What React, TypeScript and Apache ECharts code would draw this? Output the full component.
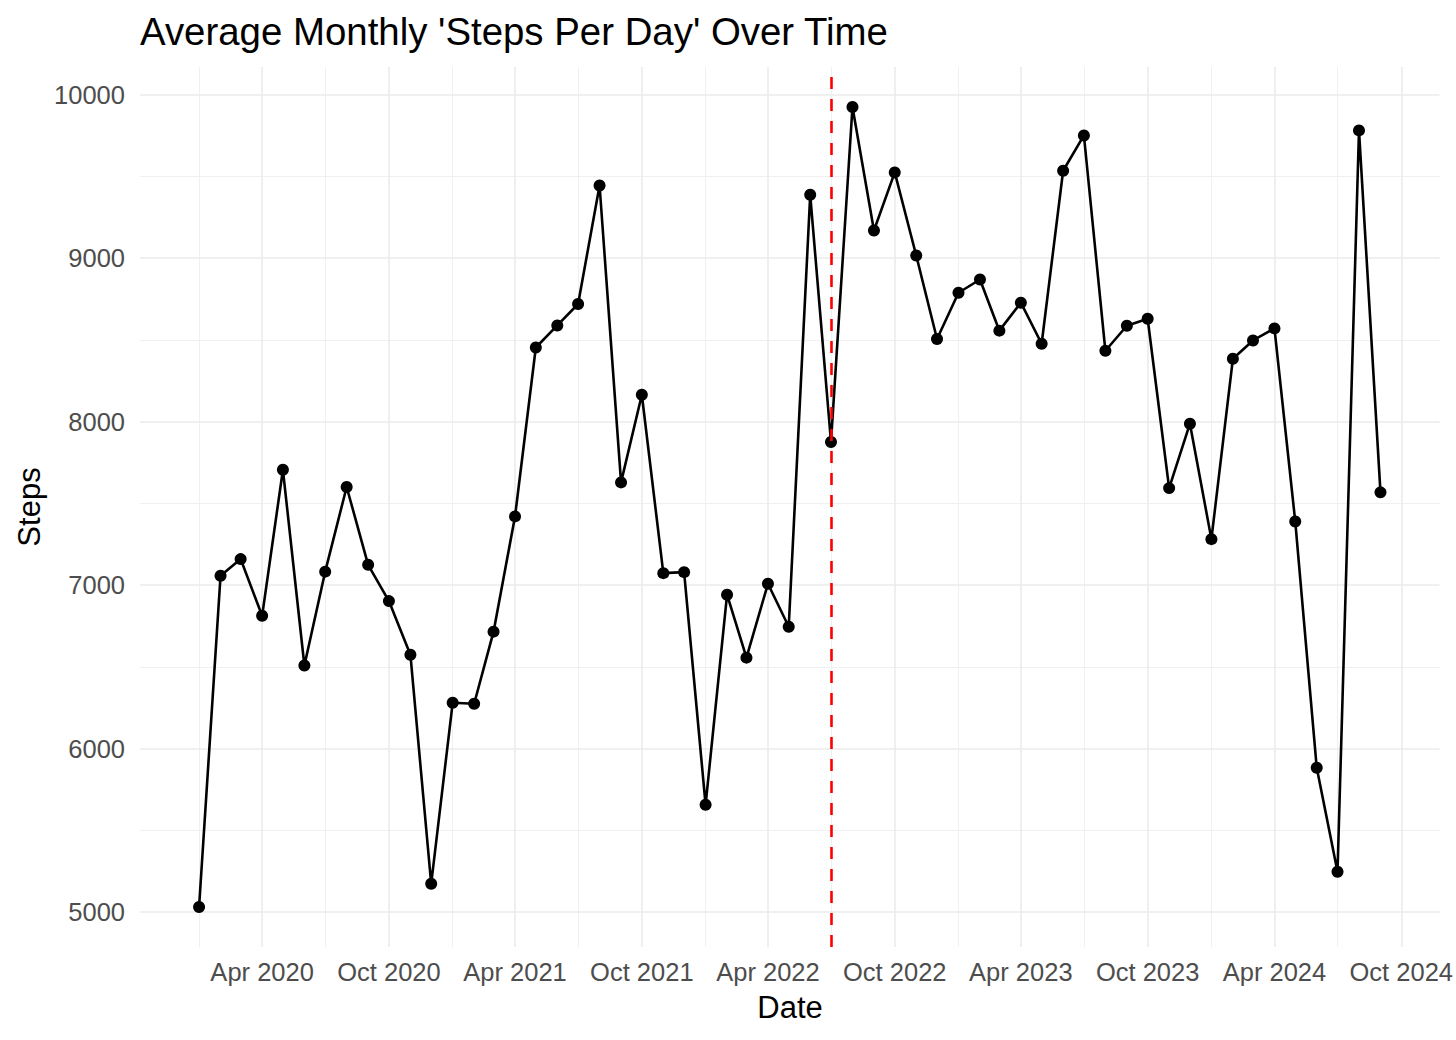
import React, { useEffect, useRef } from "react";
import * as echarts from "echarts";

const chartTitle = "Average Monthly 'Steps Per Day' Over Time";
const xTitle = "Date";
const yTitle = "Steps";

const months = [
  "2020-01", "2020-02", "2020-03", "2020-04", "2020-05", "2020-06", "2020-07", "2020-08", "2020-09", "2020-10", "2020-11", "2020-12",
  "2021-01", "2021-02", "2021-03", "2021-04", "2021-05", "2021-06", "2021-07", "2021-08", "2021-09", "2021-10", "2021-11", "2021-12",
  "2022-01", "2022-02", "2022-03", "2022-04", "2022-05", "2022-06", "2022-07", "2022-08", "2022-09", "2022-10", "2022-11", "2022-12",
  "2023-01", "2023-02", "2023-03", "2023-04", "2023-05", "2023-06", "2023-07", "2023-08", "2023-09", "2023-10", "2023-11", "2023-12",
  "2024-01", "2024-02", "2024-03", "2024-04", "2024-05", "2024-06", "2024-07", "2024-08", "2024-09",
];

const steps = [
  5032, 7058, 7160, 6813, 7706, 6509, 7083, 7601, 7125, 6903, 6575, 5174,
  6281, 6275, 6716, 7421, 8454, 8589, 8720, 9445, 7629, 8165, 7074, 7080,
  5657, 6942, 6557, 7009, 6746, 9388, 7876, 9925, 9170, 9525, 9017, 8506,
  8789, 8870, 8557, 8728, 8477, 9535, 9751, 8434, 8587, 8630, 7594, 7988,
  7282, 8385, 8497, 8571, 7390, 5884, 5248, 9782, 7568,
];

const xMajorTicks = ["2020-04", "2020-10", "2021-04", "2021-10", "2022-04", "2022-10", "2023-04", "2023-10", "2024-04", "2024-10"];
const xMinorTicks = ["2020-01", "2020-07", "2021-01", "2021-07", "2022-01", "2022-07", "2023-01", "2023-07", "2024-01", "2024-07"];
const yMajorTicks = [5000, 6000, 7000, 8000, 9000, 10000];
const yMinorTicks = [5500, 6500, 7500, 8500, 9500];
const markerMonth = "2022-07";
const monthNames = ["Jan", "Feb", "Mar", "Apr", "May", "Jun", "Jul", "Aug", "Sep", "Oct", "Nov", "Dec"];

const ts = (m: string) => {
  const [y, mo] = m.split("-").map(Number);
  return Date.UTC(y, mo - 1, 1);
};

const FONT = "'Liberation Sans', Arial, sans-serif";

export default function App() {
  const ref = useRef<HTMLDivElement>(null);

  useEffect(() => {
    document.body.style.margin = "0";
    if (!ref.current) return;
    const chart = echarts.init(ref.current, null, { renderer: "svg" });

    const xs = months.map(ts);
    const xSpan = xs[xs.length - 1] - xs[0];
    const xMin = xs[0] - 0.05 * xSpan;
    const xMax = xs[xs.length - 1] + 0.05 * xSpan;
    const dMin = Math.min(...steps);
    const dMax = Math.max(...steps);
    const ySpan = dMax - dMin;
    const yMin = dMin - 0.05 * ySpan;
    const yMax = dMax + 0.05 * ySpan;

    const majorStyle = { color: "#ebebeb", width: 1.6, type: "solid" as const };
    const minorStyle = { color: "#f0f0f0", width: 1, type: "solid" as const };

    const gridLines = [
      ...xMinorTicks.map((m) => ({ xAxis: ts(m), lineStyle: minorStyle })),
      ...yMinorTicks.map((v) => ({ yAxis: v, lineStyle: minorStyle })),
      ...xMajorTicks.map((m) => ({ xAxis: ts(m), lineStyle: majorStyle })),
      ...yMajorTicks.map((v) => ({ yAxis: v, lineStyle: majorStyle })),
    ];

    chart.setOption({
      animation: false,
      backgroundColor: "#ffffff",
      grid: { left: 140, right: 16, top: 67, bottom: 93, containLabel: false },
      xAxis: {
        type: "value",
        min: xMin,
        max: xMax,
        axisLine: { show: false },
        axisTick: { show: false },
        splitLine: { show: false },
        axisLabel: {
          customValues: xMajorTicks.map(ts),
          formatter: (v: number) => {
            const d = new Date(v);
            return monthNames[d.getUTCMonth()] + " " + d.getUTCFullYear();
          },
          color: "#4d4d4d",
          fontSize: 25.5,
          fontFamily: FONT,
          margin: 12,
          hideOverlap: false,
        },
      },
      yAxis: {
        type: "value",
        min: yMin,
        max: yMax,
        axisLine: { show: false },
        axisTick: { show: false },
        splitLine: { show: false },
        axisLabel: {
          customValues: yMajorTicks,
          formatter: (v: number) => String(v),
          color: "#4d4d4d",
          fontSize: 25.5,
          fontFamily: FONT,
          margin: 15,
        },
      },
      graphic: [
        {
          type: "text",
          left: 140,
          top: 12,
          style: { text: chartTitle, font: `38.4px ${FONT}`, fill: "#000000" },
        },
        {
          type: "text",
          x: 790,
          y: 1007,
          style: { text: xTitle, font: `31px ${FONT}`, fill: "#000000", textAlign: "center", textVerticalAlign: "middle" },
        },
        {
          type: "text",
          x: 29,
          y: 507,
          rotation: Math.PI / 2,
          style: { text: yTitle, font: `31px ${FONT}`, fill: "#000000", textAlign: "center", textVerticalAlign: "middle" },
        },
      ],
      series: [
        {
          type: "line",
          data: [],
          z: 1,
          silent: true,
          markLine: {
            silent: true,
            z: 1,
            symbol: "none",
            label: { show: false },
            animation: false,
            data: gridLines,
          },
        },
        {
          type: "line",
          data: months.map((m, i) => [ts(m), steps[i]]),
          z: 3,
          symbol: "circle",
          symbolSize: 12,
          showAllSymbol: true,
          lineStyle: { color: "#000000", width: 2.6 },
          itemStyle: { color: "#000000", borderWidth: 0 },
        },
        {
          type: "line",
          data: [],
          z: 6,
          silent: true,
          markLine: {
            silent: true,
            z: 6,
            symbol: "none",
            label: { show: false },
            animation: false,
            data: [{ xAxis: ts(markerMonth) }],
            lineStyle: { color: "#ff0000", width: 2.6, type: [12, 10] },
          },
        },
      ],
    });

    return () => chart.dispose();
  }, []);

  return <div ref={ref} style={{ width: 1456, height: 1040 }} />;
}
